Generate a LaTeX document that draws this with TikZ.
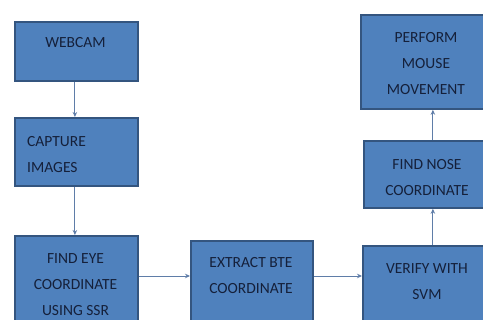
\documentclass[tikz,border=0pt]{standalone}
\usepackage{fontspec}
\setmainfont{Carlito}
\usetikzlibrary{arrows.meta, positioning}
\definecolor{cfill}{HTML}{4F81BD}
\definecolor{cedge}{HTML}{34557F}
\definecolor{ctext}{HTML}{15203A}
\definecolor{carrow}{HTML}{5F7DA8}
\tikzset{
  every picture/.style={font=\fontsize{15.5}{26}\selectfont},
  box/.style={draw=cedge, fill=cfill, line width=1.8pt, anchor=north west, inner sep=0pt},
  txt/.style={text=ctext, align=center, inner sep=0pt},
  arrow/.style={-{Stealth[length=5pt, width=4.5pt]}, draw=carrow, line width=0.9pt},
}

\begin{document}
\begin{tikzpicture}[x=1pt, y=-1pt]
  \clip (0,0) rectangle (483,320);
  \fill[white] (0,0) rectangle (483,320);
  % boxes: name/left/top/width/height
  \foreach \n/\x/\y/\w/\h in {webcam/14/21/123/59, capture/14/117/123/68,
      findeye/14/235/123/100, extract/190/240/122/95, verify/362/245/130/95,
      findnose/363/140/129/67, perform/360/14/132/94} {
    \node[box, minimum width=\w pt, minimum height=\h pt] (\n) at (\x,\y) {};
  }
  % texts
  \node[txt] (webcamtxt) at (75.5,43) {WEBCAM};
  \node[txt, align=left, anchor=west] (capturetxt) at (27,155) {CAPTURE\\IMAGES};
  \node[txt] (findeyetxt) at (75.5,285) {FIND EYE\\COORDINATE\\USING SSR};
  \node[txt] (extracttxt) at (251,276) {EXTRACT BTE\\COORDINATE};
  \node[txt] (verifytxt) at (427,281.5) {VERIFY WITH\\SVM};
  \node[txt] (findnosetxt) at (427,177.5) {FIND NOSE\\COORDINATE};
  \node[txt] (performtxt) at (426,63.5) {PERFORM\\MOUSE\\MOVEMENT};
  % connectors
  \draw[arrow] ([xshift=-1.5pt]webcam.south) -- ([xshift=-1.5pt]capture.north);
  \draw[arrow] ([xshift=-1.5pt]capture.south) -- ([xshift=-1.5pt]findeye.north);
  \draw[arrow] (findeye.east |- extracttxt) -- (extract.west |- extracttxt);
  \draw[arrow] (extract.east |- extracttxt) -- (verify.west |- extracttxt);
  \draw[arrow] ([xshift=5pt]verify.north) -- ([xshift=4.5pt]findnose.south);
  \draw[arrow] ([xshift=4.5pt]findnose.north) -- ([xshift=6pt]perform.south);
\end{tikzpicture}
\end{document}
